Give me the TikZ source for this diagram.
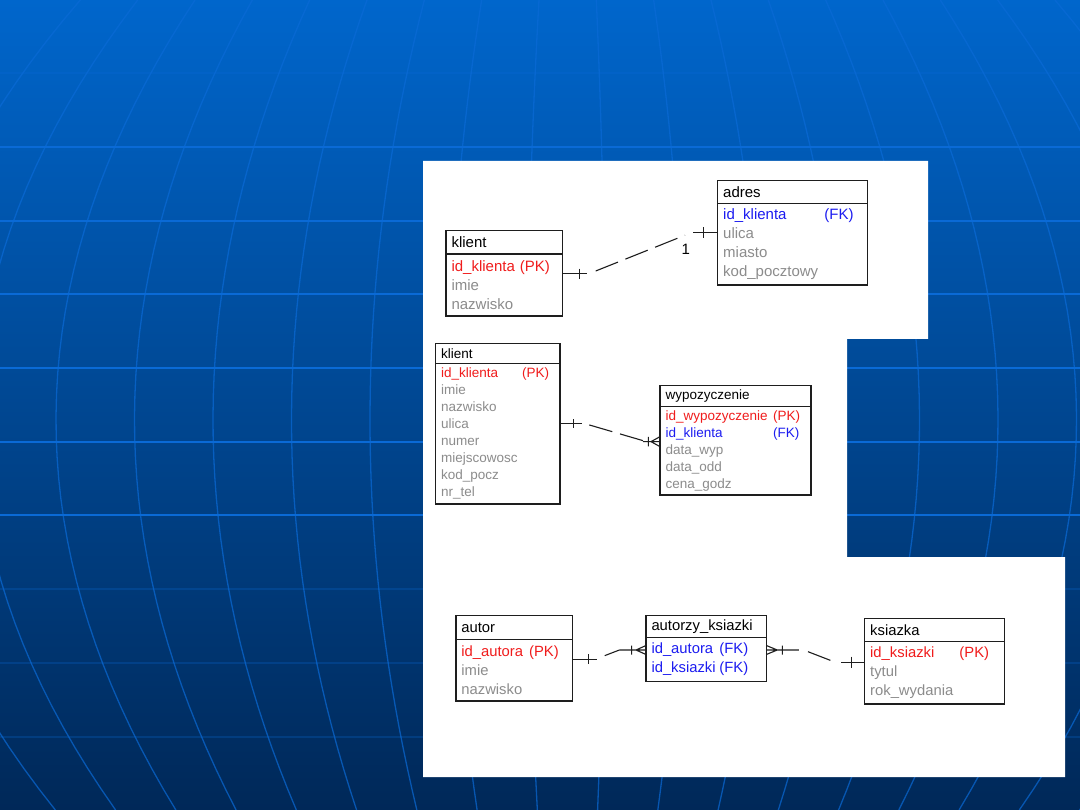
\documentclass[tikz,border=0pt]{standalone}
\usepackage{fontspec}
\setmainfont{Liberation Sans}
\usetikzlibrary{calc}

\definecolor{bgtop}{RGB}{0,102,204}
\definecolor{bgbot}{RGB}{0,40,88}
\definecolor{gridblue}{RGB}{10,106,214}
\definecolor{pkred}{RGB}{240,28,28}
\definecolor{fkblue}{RGB}{28,28,240}
\definecolor{attgray}{RGB}{140,140,140}
\definecolor{tline}{RGB}{30,30,30}

\newcommand{\prim}[2]{\textcolor{pkred}{\makebox[#1][l]{#2}(PK)}}
\newcommand{\forn}[2]{\textcolor{fkblue}{\makebox[#1][l]{#2}(FK)}}

\begin{document}
\begin{tikzpicture}[x=1pt, y=-1pt,
    hdr/.style={draw=tline, line width=1.2pt, anchor=north west, outer sep=0pt,
      inner xsep=5.5pt, inner ysep=0pt, align=left, text=black},
    body/.style={hdr, text=attgray},
    rel/.style={draw=tline, line width=1.1pt},
    dashrel/.style={rel, dash pattern=on 24pt off 8pt},
    hline/.style={draw=gridblue, line width=2pt},
    merid/.style={draw=gridblue, line width=1.3pt, opacity=0.7},
    pone/.style={font=\fontsize{15}{19}\selectfont},
    ptwo/.style={font=\fontsize{13.5}{17}\selectfont},
    pthree/.style={font=\fontsize{14.8}{19}\selectfont}]
  \useasboundingbox (0,0) rectangle (1080,810);
  \shade[top color=bgtop, bottom color=bgbot] (0,0) rectangle (1080,810);
  \begin{scope}
    \clip (0,0) rectangle (1080,810);
    \foreach \i in {-2,...,15}
      \draw[merid] plot[domain=0:810, samples=40, variable=\t]
        ({56+7.88*((\t-420)/100)^2+\i*(78.5-1.2*((\t-420)/100)^2)}, \t);
    \foreach \y in {147,221,294,368,442,515}
      \draw[hline] (0,\y) -- (1080,\y);
    \foreach \y in {73,589,663,737}
      \draw[hline, opacity=0.25] (0,\y) -- (1080,\y);
  \end{scope}
  \fill[white] (423,161) -- (928,161) -- (928,339) -- (847,339) -- (847,557)
    -- (1065,557) -- (1065,777) -- (423,777) -- cycle;

  \node[hdr, pone, text width=105.7pt, minimum height=23.3pt] (k1) at (446,230.7) {klient};
  \node[body, pone, text width=105.7pt, minimum height=62pt] (k1b) at (k1.south west)
    {\prim{68.3pt}{id\_klienta}\\imie\\nazwisko};
  \node[hdr, pone, text width=139pt, minimum height=22.6pt] (a1) at (717.7,180.7) {adres};
  \node[body, pone, text width=139pt, minimum height=81.7pt] (a1b) at (a1.south west)
    {\forn{101.3pt}{id\_klienta}\\ulica\\miasto\\kod\_pocztowy};

  \node[hdr, ptwo, text width=113.3pt, minimum height=20.4pt] (k2) at (435.7,343.3) {klient};
  \node[body, ptwo, text width=113.3pt, minimum height=140.3pt] (k2b) at (k2.south west)
    {\prim{81pt}{id\_klienta}\\imie\\nazwisko\\ulica\\numer\\miejscowosc\\kod\_pocz\\nr\_tel};
  \node[hdr, ptwo, text width=140pt, minimum height=21pt] (w2) at (660,385.7) {wypozyczenie};
  \node[body, ptwo, text width=140pt, minimum height=88.3pt] (w2b) at (w2.south west)
    {\prim{107.7pt}{id\_wypozyczenie}\\\forn{107.7pt}{id\_klienta}\\data\_wyp\\data\_odd\\cena\_godz};

  \node[hdr, pthree, text width=105.2pt, minimum height=24pt] (a3) at (455.9,615.3) {autor};
  \node[body, pthree, text width=105.2pt, minimum height=61.7pt] (a3b) at (a3.south west)
    {\prim{67.8pt}{id\_autora}\\imie\\nazwisko};
  \node[hdr, pthree, text width=109.3pt, minimum height=22pt] (ak3) at (646,615.3) {autorzy\_ksiazki};
  \node[body, pthree, text width=109.3pt, minimum height=44.4pt] (ak3b) at (ak3.south west)
    {\forn{68pt}{id\_autora}\\\forn{68pt}{id\_ksiazki}};
  \node[hdr, pthree, text width=128.5pt, minimum height=23pt] (ks3) at (864.7,618.7) {ksiazka};
  \node[body, pthree, text width=128.5pt, minimum height=62.3pt] (ks3b) at (ks3.south west)
    {\prim{89.3pt}{id\_ksiazki}\\tytul\\rok\_wydania};

  \coordinate (r1s) at ([yshift=11.3pt]k1b.east);
  \coordinate (r1t) at ([yshift=11.5pt]a1b.west);
  \draw[rel] (r1s) -- ++(24,0) (r1s) ++(16.6,-5) -- ++(0,10);
  \draw[dashrel] ($(r1s)+(33,-2.7)$) -- ($(r1t)+(-32.7,2.6)$);
  \draw[rel] (r1t) -- ++(-24.4,0) (r1t) ++(-14.4,-5.5) -- ++(0,11);
  \node[pone] (n1) at ($(r1t)+(-32,16.6)$) {1};

  \coordinate (r2s) at ([yshift=10.2pt]k2b.east);
  \coordinate (r2t) at ([yshift=9.2pt]w2b.west);
  \draw[rel] (r2s) -- ++(21.7,0) (r2s) ++(13.3,-4.5) -- ++(0,9);
  \draw[dashrel] ($(r2s)+(29.3,1.3)$) -- ($(r2t)+(-17,-1)$);
  \draw[rel] (r2t) -- ++(-17,0) (r2t) ++(-11.7,-4.7) -- ++(0,9.4)
    (r2t) ++(0,-5) -- ++(-9,5) -- ++(9,5);

  \coordinate (r3s) at ([yshift=10.9pt]a3b.east);
  \coordinate (r3t) at ([yshift=9.5pt]ak3b.west);
  \draw[rel] (r3s) -- ++(25.2,0) (r3s) ++(16,-5) -- ++(0,10);
  \draw[dashrel] ($(r3s)+(32.6,-3.6)$) -- ($(r3t)+(-26.6,0)$);
  \draw[rel] (r3t) -- ++(-26.6,0) (r3t) ++(-14.4,-4.5) -- ++(0,9)
    (r3t) ++(0,-4.5) -- ++(-10,4.5) -- ++(10,4.5);

  \coordinate (r4s) at ([yshift=9.5pt]ak3b.east);
  \coordinate (r4t) at ([yshift=10.5pt]ks3b.west);
  \draw[rel] (r4s) -- ++(32.6,0) (r4s) ++(16,-4.5) -- ++(0,9)
    (r4s) ++(0,-4.5) -- ++(11,4.5) -- ++(-11,4.5);
  \draw[dashrel] ($(r4s)+(41.7,1.7)$) -- ($(r4t)+(-30.7,-0.6)$);
  \draw[rel] (r4t) -- ++(-23.3,0) (r4t) ++(-13,-5.8) -- ++(0,11.6);
\end{tikzpicture}
\end{document}
